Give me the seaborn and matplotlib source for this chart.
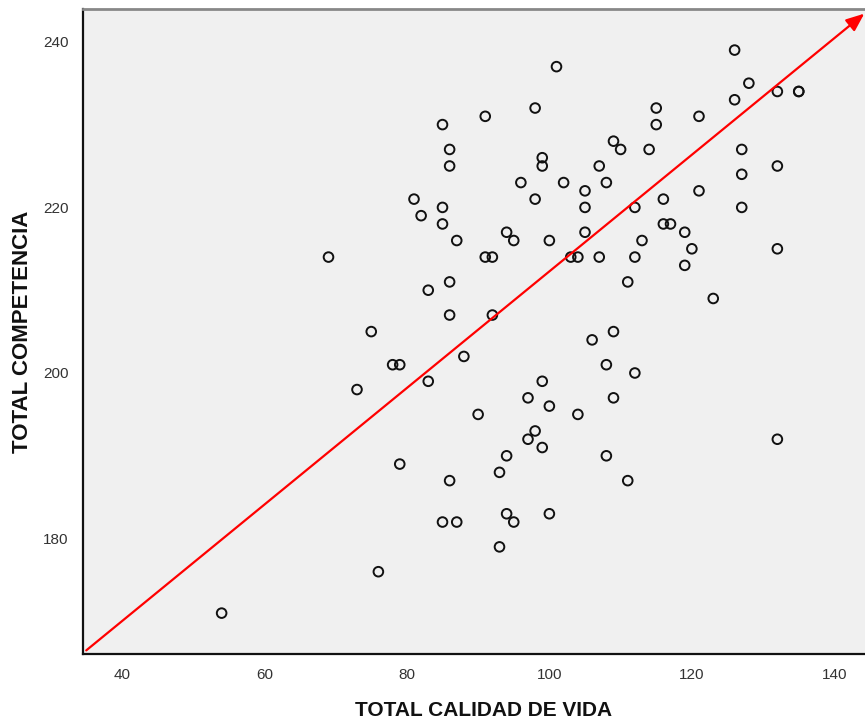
import matplotlib
matplotlib.use("Agg")
import matplotlib.pyplot as plt
import seaborn as sns
import pandas as pd

calidad_vida = [
    126, 101, 128, 132, 135, 135, 126, 98, 115, 91, 121, 85, 115, 109, 86, 110, 114, 127,
    99, 99, 86, 107, 132, 127, 96, 102, 108, 105, 121, 98, 116, 85, 105, 112, 127, 85,
    116, 117, 94, 105, 119, 87, 95, 100, 113, 120, 132, 91, 92, 103, 104, 107, 112, 119,
    86, 111, 83, 123, 86, 92, 109, 106, 88, 81, 82, 69, 75, 78, 79, 73, 83, 79, 76, 54,
    85, 108, 112, 99, 97, 109, 100, 90, 104, 98, 97, 99, 94, 108, 132, 93, 86, 111, 94,
    100, 95, 87, 93,
]
competencia = [
    239, 237, 235, 234, 234, 234, 233, 232, 232, 231, 231, 230, 230, 228, 227, 227, 227, 227,
    226, 225, 225, 225, 225, 224, 223, 223, 223, 222, 222, 221, 221, 220, 220, 220, 220, 218,
    218, 218, 217, 217, 217, 216, 216, 216, 216, 215, 215, 214, 214, 214, 214, 214, 214, 213,
    211, 211, 210, 209, 207, 207, 205, 204, 202, 221, 219, 214, 205, 201, 201, 198, 199, 189, 176, 171,
    182, 201, 200, 199, 197, 197, 196, 195, 195, 193, 192, 191, 190, 190, 192, 188, 187, 187, 183,
    183, 182, 182, 179,
]

x_label = "TOTAL CALIDAD DE VIDA"
y_label = "TOTAL COMPETENCIA"
x_ticks = [40, 60, 80, 100, 120, 140]
y_ticks = [180, 200, 220, 240]

df = pd.DataFrame({"x": calidad_vida, "y": competencia})

sns.set_style("white")
plt.rcParams["font.family"] = ["Liberation Sans", "DejaVu Sans"]

fig = plt.figure(figsize=(8.65, 7.21), dpi=100)
ax = fig.add_axes([0.0956, 0.0929, 0.9044, 0.8946])
ax.set_facecolor("#f0f0f0")

sns.scatterplot(data=df, x="x", y="y", ax=ax, marker="o", s=48,
                facecolor="none", edgecolor="#111111", linewidth=1.4, zorder=3)

ax.set_xlim(34.5, 144.3)
ax.set_ylim(166.06, 243.96)
ax.set_xticks(x_ticks)
ax.set_yticks(y_ticks)
ax.tick_params(axis="both", direction="out", length=7, width=1.5, color="#222222",
               labelsize=11, labelcolor="#333333", pad=3)

for side in ["left", "bottom"]:
    ax.spines[side].set_color("#111111")
    ax.spines[side].set_linewidth(1.6)
ax.spines["top"].set_color("#888888")
ax.spines["top"].set_linewidth(2)
ax.spines["right"].set_visible(False)

ax.set_xlabel(x_label, fontsize=15, fontweight="bold", color="#111111")
ax.set_ylabel(y_label, fontsize=16, fontweight="bold", color="#111111")
ax.xaxis.set_label_coords(0.513, -0.073)
ax.yaxis.set_label_coords(-0.064, 0.5)

ax.annotate("", xy=(144.2, 243.4), xytext=(35.0, 166.5),
            arrowprops=dict(arrowstyle="-|>,head_length=1.1,head_width=0.45",
                            color="#ff0000", lw=1.6, shrinkA=0, shrinkB=0),
            zorder=4, annotation_clip=False)

fig.savefig("out.png", dpi=100)
